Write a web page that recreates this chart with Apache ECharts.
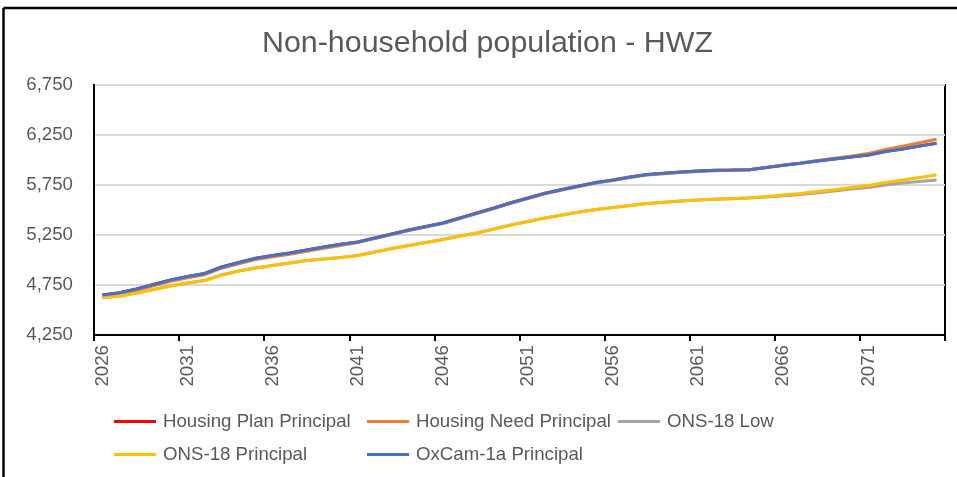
<!DOCTYPE html>
<html>
<head>
<meta charset="utf-8">
<script src="https://cdn.jsdelivr.net/npm/echarts@6/dist/echarts.min.js"></script>
<style>
html,body{margin:0;padding:0;background:#fff;}
#chart{width:957px;height:477px;}
</style>
</head>
<body>
<div id="chart"></div>
<script>
const years = [];
for (let y = 2026; y <= 2075; y++) years.push(String(y));

const oxcam = [4650,4672,4710,4755,4800,4835,4865,4930,4975,5017,
               5045,5070,5100,5130,5157,5180,5220,5260,5300,5335,
               5370,5420,5470,5520,5573,5620,5668,5705,5740,5775,
               5800,5830,5855,5868,5880,5890,5898,5900,5903,5925,
               5948,5968,5990,6010,6030,6050,6085,6110,6140,6167];
const housingPlan = oxcam.slice();
const housingNeed = [4638,4660,4698,4743,4788,4823,4853,4918,4963,5005,
                     5033,5058,5088,5118,5145,5175,5215,5255,5295,5330,
                     5365,5415,5465,5515,5568,5615,5663,5700,5735,5770,
                     5795,5825,5850,5863,5875,5885,5893,5900,5903,5925,
                     5948,5970,5994,6017,6040,6065,6105,6137,6173,6207];
const onsPrincipal = [4623,4640,4670,4705,4740,4770,4795,4850,4890,4920,
                      4945,4970,4995,5010,5025,5045,5080,5115,5145,5175,
                      5205,5240,5270,5310,5350,5385,5420,5450,5480,5505,
                      5525,5545,5565,5578,5590,5600,5610,5615,5622,5635,
                      5650,5665,5685,5703,5725,5745,5775,5800,5825,5850];
const onsLow = [4623,4640,4670,4705,4740,4770,4795,4850,4890,4920,
                4945,4970,4995,5010,5025,5045,5080,5115,5145,5175,
                5205,5240,5270,5310,5350,5385,5420,5450,5480,5505,
                5525,5545,5565,5578,5590,5600,5608,5612,5619,5630,
                5642,5655,5673,5689,5709,5725,5750,5770,5785,5800];

const yTicks = [4250, 4750, 5250, 5750, 6250, 6750];

const FONT = '"Liberation Sans", Arial, sans-serif';
const TXT = '#595959';

const chart = echarts.init(document.getElementById('chart'), null, {renderer: 'canvas'});

const legendCommon = {
  orient: 'vertical',
  icon: 'rect',
  itemWidth: 42,
  itemHeight: 3,
  itemGap: 14,
  top: 412,
  padding: 0,
  selectedMode: false,
  textStyle: {fontSize: 18.67, color: TXT, fontFamily: FONT, lineHeight: 19, padding: [0, 0, 0, 2]}
};

function mk(name, data, color) {
  return {
    name, type: 'line', data, symbol: 'none', smooth: false,
    lineStyle: {color, width: 3}, itemStyle: {color},
    emphasis: {disabled: true}, animation: false
  };
}

chart.setOption({
  animation: false,
  backgroundColor: '#fff',
  title: {
    text: 'Non-household population - HWZ',
    left: 262, top: 29, padding: 0,
    textStyle: {fontSize: 30.4, fontWeight: 'normal', color: TXT, fontFamily: FONT}
  },
  grid: {left: 94, right: 12, top: 85, bottom: 142, show: true, borderColor: '#000', borderWidth: 2, backgroundColor: 'transparent'},
  legend: [
    Object.assign({}, legendCommon, {left: 114, data: ['Housing Plan Principal', 'ONS-18 Principal']}),
    Object.assign({}, legendCommon, {left: 367, data: ['Housing Need Principal', 'OxCam-1a Principal']}),
    Object.assign({}, legendCommon, {left: 618, data: ['ONS-18 Low']})
  ],
  xAxis: {
    type: 'category', data: years, boundaryGap: true,
    axisLine: {lineStyle: {color: '#000', width: 2}},
    axisTick: {show: true, interval: 4, length: 6, lineStyle: {color: '#000', width: 2}},
    axisLabel: {interval: 4, rotate: 90, margin: 10, fontSize: 18.67, color: TXT, fontFamily: FONT},
    splitLine: {show: false}
  },
  yAxis: {
    type: 'value', min: yTicks[0], max: yTicks[yTicks.length - 1], interval: yTicks[1] - yTicks[0],
    axisLine: {show: true, lineStyle: {color: '#000', width: 2}},
    axisTick: {show: false},
    axisLabel: {margin: 21, fontSize: 18.67, color: TXT, fontFamily: FONT,
      formatter: v => Number(v).toLocaleString('en-US')},
    splitLine: {show: true, lineStyle: {color: '#D9D9D9', width: 2}}
  },
  graphic: [
    {type: 'line', shape: {x1: 3.5, y1: 8, x2: 3.5, y2: 477}, style: {stroke: '#000', lineWidth: 2.5}, silent: true},
    {type: 'line', shape: {x1: 3.5, y1: 8, x2: 957, y2: 8}, style: {stroke: '#000', lineWidth: 2.5}, silent: true}
  ],
  series: [
    mk('Housing Plan Principal', housingPlan, '#FF0000'),
    mk('Housing Need Principal', housingNeed, '#ED7D31'),
    mk('ONS-18 Low', onsLow, '#A5A5A5'),
    mk('ONS-18 Principal', onsPrincipal, '#FFC000'),
    mk('OxCam-1a Principal', oxcam, '#4472C4')
  ]
});
</script>
</body>
</html>
